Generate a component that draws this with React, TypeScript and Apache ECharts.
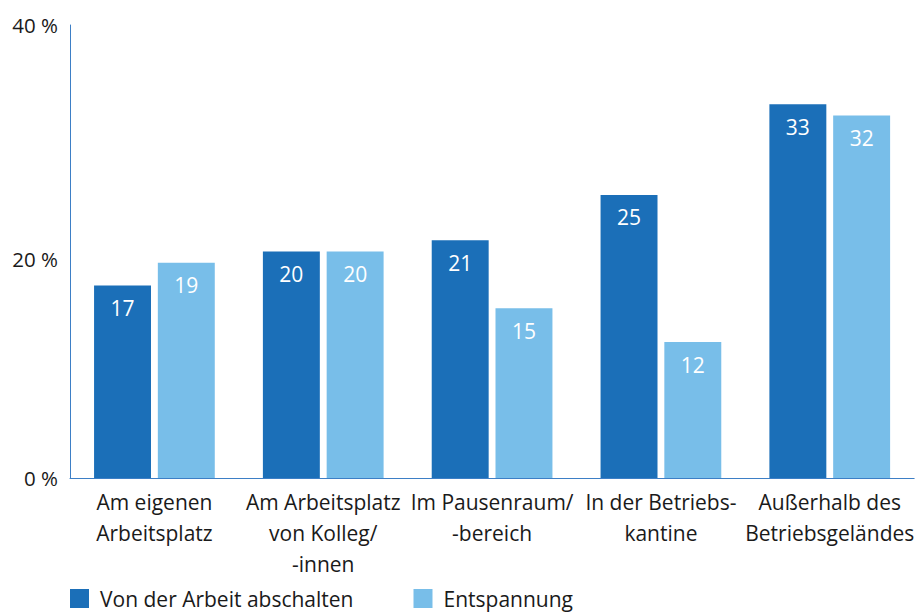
import React, { useEffect, useRef } from "react";
import * as echarts from "echarts";

const categories: string[] = [
  "Am eigenen\nArbeitsplatz",
  "Am Arbeitsplatz\nvon Kolleg/\n-innen",
  "Im Pausenraum/\n-bereich",
  "In der Betriebs-\nkantine",
  "Außerhalb des\nBetriebsgeländes",
];
const seriesNames: string[] = ["Von der Arbeit abschalten", "Entspannung"];
const abschalten: number[] = [17, 20, 21, 25, 33];
const entspannung: number[] = [19, 20, 15, 12, 32];
const yTicks: number[] = [0, 20, 40];

const DARK = "#1b6fb8";
const LIGHT = "#78bee9";
const AXIS = "#3d7fc6";
const FONT = "'Open Sans', 'Noto Sans', sans-serif";

export default function App() {
  const ref = useRef<HTMLDivElement>(null);
  useEffect(() => {
    if (!ref.current) return;
    const chart = echarts.init(ref.current, undefined, { renderer: "svg" });
    const barLabel = {
      show: true,
      position: "insideTop",
      distance: 12,
      color: "#ffffff",
      fontSize: 21,
      fontFamily: FONT,
    };
    chart.setOption({
      animation: false,
      textStyle: { fontFamily: FONT },
      grid: { left: 70, right: 0, top: 25, bottom: 134, containLabel: false },
      legend: {
        left: 70,
        top: 588,
        padding: 0,
        itemWidth: 19,
        itemHeight: 19,
        itemGap: 60,
        icon: "rect",
        textStyle: { fontSize: 21, color: "#1a1a1a", fontFamily: FONT, padding: [0, 0, 0, 6] },
        data: seriesNames,
      },
      xAxis: {
        type: "category",
        data: categories,
        axisLine: { show: true, lineStyle: { color: AXIS, width: 1 } },
        axisTick: { show: false },
        axisLabel: {
          interval: 0,
          margin: 8,
          fontSize: 21,
          lineHeight: 31,
          color: "#1a1a1a",
          fontFamily: FONT,
          align: "center",
        },
      },
      yAxis: {
        type: "value",
        min: yTicks[0],
        max: yTicks[yTicks.length - 1],
        interval: yTicks[1] - yTicks[0],
        axisLine: { show: true, lineStyle: { color: AXIS, width: 1 } },
        axisTick: { show: false },
        splitLine: { show: false },
        axisLabel: {
          margin: 12,
          fontSize: 20.5,
          color: "#1a1a1a",
          fontFamily: FONT,
          formatter: (v: number) => (v === 20 ? `{m|${v} %}` : `${v} %`),
          rich: { m: { fontSize: 20.5, color: "#1a1a1a", fontFamily: FONT, padding: [14, 0, 0, 0] } },
        },
      },
      series: [
        {
          name: seriesNames[0],
          type: "bar",
          data: abschalten,
          barGap: "12%",
          barCategoryGap: "28.5%",
          itemStyle: { color: DARK },
          label: barLabel,
        },
        {
          name: seriesNames[1],
          type: "bar",
          data: entspannung,
          itemStyle: { color: LIGHT },
          label: barLabel,
        },
      ],
    });
    return () => chart.dispose();
  }, []);
  return (
    <div
      ref={ref}
      style={{ position: "fixed", left: 0, top: 0, width: 917, height: 612, background: "#ffffff" }}
    />
  );
}
